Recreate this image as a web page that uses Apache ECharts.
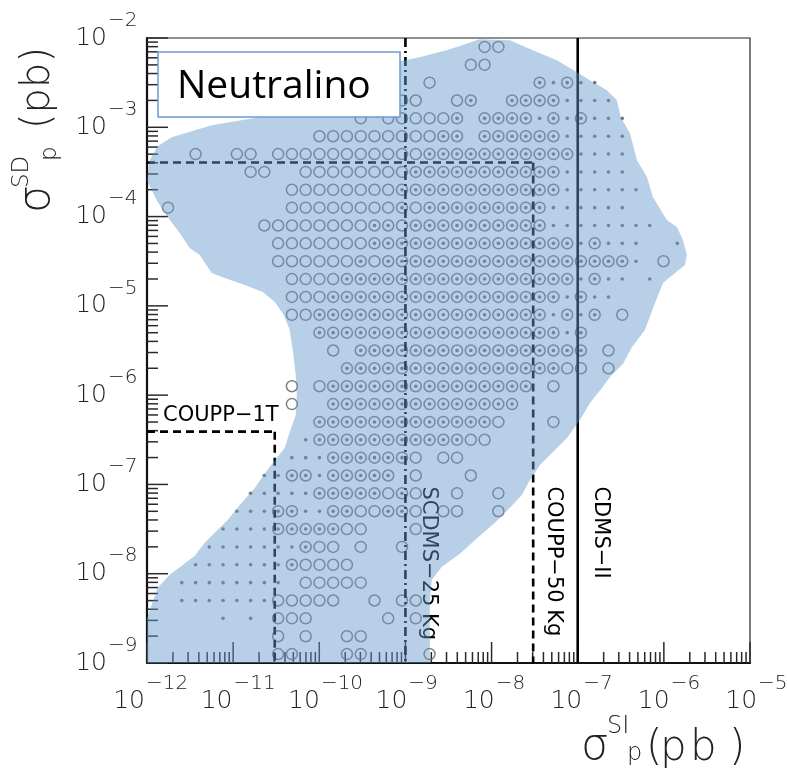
<!DOCTYPE html>
<html><head><meta charset="utf-8">
<script src="https://cdn.jsdelivr.net/npm/echarts@6/dist/echarts.min.js"></script>
<style>html,body{margin:0;padding:0;background:#fff}#c{width:788px;height:773px}</style>
</head><body><div id="c"></div>
<script>
// ---- data (log10 of cross-sections, pb) ----
const colsLog = [-11.756,-11.596,-11.436,-11.277,-11.117,-10.957,-10.797,-10.638,-10.478,-10.318,
  -10.158,-9.998,-9.839,-9.679,-9.519,-9.359,-9.200,-9.040,-8.880,-8.720,
  -8.560,-8.401,-8.241,-8.081,-7.921,-7.762,-7.602,-7.442,-7.282,-7.122,
  -6.963,-6.803,-6.643,-6.483,-6.324,-6.164,-6.004,-5.844];
const rowsLog = [-2.1,-2.3,-2.5,-2.7,-2.9,-3.1,-3.3,-3.5,-3.7,-3.9,-4.1,-4.3,-4.5,-4.7,-4.9,-5.1,-5.3,-5.5,
  -5.7,-5.9,-6.1,-6.3,-6.5,-6.7,-6.9,-7.1,-7.3,-7.5,-7.7,-7.9,-8.1,-8.3,-8.5,-8.7,-8.9];
// o = open circle, @ = circle with central dot, . = dot, - = nothing
const rowPatterns = [
  "---------- ---------- ---oo----- --------",
  "---------- ---------- --oo------ --------",
  "---------- ---------o -------@.@ ..------",
  "---------- -------oo- -o@--@@@@. ...-----",
  "---------- ----o-oooo o@-@@@@.@. @...----",
  "---------- -ooooooooo @@-@@@@@@. ....----",
  "--o--oo-oo ooooooooo@ @@@@@@@@@@ ....----",
  "------oo-- oooooooo@@ @@@@@@@@@. ....----",
  "---------o ooooooo@@@ @@@@@@@@@. .....---",
  "o--------o ooooooo@o@ @@@@@@@@.. ....----",
  "-------ooo ooooo@@o@@ @@@@@@@@.. ......--",
  "--------oo ooooo@@@@@ @@@@@@@@@@ .@...--.",
  "--------oo oooo@o@@@@ @@@@@@@@@@ @@@@.-o-",
  "---------o ooo@@@@@@@ @@@@@@@@@@ .@..-.--",
  "---------o oo@@@@@@@@ @@@@@@@@@. @..-----",
  "---------o o@@@@@@@@@ @@@@@@@@.@ .@-o----",
  "---------- -@@@@@@@@@ @@@@@@@@@. @-------",
  "---------- --o-@@@@@@ @@@@@@@@@@ @-o-----",
  "---------- ---@@@@@@@ @@@@@@@@@o o-o-----",
  "---------o -o@@@@@@@@ @@@@@@@-o- --------",
  "---------o --@@@@@@@@ @@@@@@---- --------",
  "---------- -@@@@@@@@@ @@@@o---o- --------",
  "---------- .@@@@@@@@@ @@oo------ --------",
  "---------. ..@@@@@@o- oo-------- --------",
  "-------..@ @.@@@@@-o- --o------- --------",
  "------.... .@@@@@o@o- -o--o----- --------",
  "-----...@@ ..@@oo@@o- oo--o----- --------",
  "----....@@ @@@oo---o- ---------- --------",
  "---....... @oo-o--o-- ---------- --------",
  "--.......@ oooo------ ---------- --------",
  "-........- ooooo----- ---------- --------",
  "-.......oo ooo--o-oo- ---------- --------",
  "----.-.-oo o-----o-o- ---------- --------",
  "--------o- o--oo----- ---------- --------",
  "--------oo ---oo----o ---------- --------"
];
// allowed region (shaded), log10 coordinates
const regionLogX = [-8.136,-7.787,-7.520,-7.242,-7.009,-6.858,-6.661,-6.545,-6.500,-6.394,-6.312,-6.196,-6.127,-5.964,-5.848,-5.778,-5.732,-5.755,-5.871,-6.010,-6.103,-6.220,-6.370,-6.475,-6.626,-6.719,-6.858,-6.974,-7.125,-7.288,-7.439,-7.555,-7.648,-7.787,-7.962,-8.136,-8.368,-8.577,-8.693,-8.717,-8.717,-12,-12,-11.945,-11.876,-11.736,-11.597,-11.446,-11.330,-11.214,-11.063,-10.923,-10.749,-10.610,-10.494,-10.401,-10.343,-10.273,-10.261,-10.273,-10.308,-10.343,-10.412,-10.517,-10.656,-10.865,-11.098,-11.249,-11.388,-11.504,-11.620,-11.794,-11.887,-12,-11.969,-11.876,-11.713,-11.249,-10.633,-9.878,-9.181,-8.833,-8.484];
const regionLogY = [-2.015,-2.026,-2.138,-2.250,-2.384,-2.473,-2.585,-2.697,-2.887,-3.066,-3.368,-3.559,-3.782,-4.040,-4.118,-4.264,-4.431,-4.543,-4.633,-4.745,-4.969,-5.271,-5.461,-5.651,-5.797,-5.920,-6.087,-6.278,-6.479,-6.636,-6.781,-6.949,-7.117,-7.262,-7.430,-7.576,-7.777,-7.923,-8.068,-8.292,-9,-9,-8.5,-8.348,-8.158,-8.012,-7.911,-7.800,-7.654,-7.542,-7.397,-7.229,-7.039,-6.848,-6.703,-6.591,-6.412,-6.222,-5.998,-5.774,-5.494,-5.271,-5.103,-4.957,-4.845,-4.767,-4.689,-4.633,-4.431,-4.353,-4.185,-3.962,-3.816,-3.592,-3.368,-3.212,-3.111,-2.977,-2.876,-2.585,-2.283,-2.216,-2.126];
// experimental limits
const limitNames = ['SCDMS\u221225 Kg', 'COUPP\u221250 Kg', 'CDMS\u2212II'];
const limitSI = [1.0e-9, 3.04e-8, 1.0e-7];
const limitSD = [null, 4.04e-4, null];
const coupp1TName = 'COUPP\u22121T';
const coupp1TSI = 3.04e-11;
const coupp1TSD = 3.9e-7;
// axis ticks
const xDecades = [-12,-11,-10,-9,-8,-7,-6,-5];
const yDecades = [-9,-8,-7,-6,-5,-4,-3,-2];
const xTickExp = ['\u221212','\u221211','\u221210','\u22129','\u22128','\u22127','\u22126','\u22125'];
const yTickExp = ['\u22129','\u22128','\u22127','\u22126','\u22125','\u22124','\u22123','\u22122'];
const minorMult = [2,3,4,5,6,7,8,9];

// ---- build scatter data ----
const ringPts = [], dotPts = [];
rowPatterns.forEach((p, r) => {
  const s = p.replace(/ /g, '');
  for (let k = 0; k < s.length; k++) {
    const c = s[k];
    const pt = [Math.pow(10, colsLog[k]), Math.pow(10, rowsLog[r])];
    if (c === 'o' || c === '@') ringPts.push(pt);
    if (c === '@' || c === '.') dotPts.push(pt);
  }
});
const XMIN = Math.pow(10, xDecades[0]), XMAX = Math.pow(10, xDecades[xDecades.length-1]);
const YMIN = Math.pow(10, yDecades[0]), YMAX = Math.pow(10, yDecades[yDecades.length-1]);
const FONT = "'DejaVu Sans'";

function txt(text, x, y, size, align, vAlign, extra) {
  return Object.assign({type:'text', style:Object.assign({
    text:text, x:x, y:y, fontSize:size, fontFamily:FONT, fill:'#111',
    align:align, textAlign:align, verticalAlign:vAlign, textVerticalAlign:vAlign
  }, extra || {})});
}

function renderTicks(params, api) {
  const ch = [];
  const st = {stroke:'#2a2a2a', lineWidth:1.5};
  xDecades.forEach((d, i) => {
    const v = Math.pow(10, d);
    const p = api.coord([v, YMIN]);
    ch.push({type:'line', shape:{x1:p[0], y1:p[1], x2:p[0], y2:p[1]-21}, style:st});
    if (i < xDecades.length - 1) minorMult.forEach(m => {
      const q = api.coord([m*v, YMIN]);
      ch.push({type:'line', shape:{x1:q[0], y1:q[1], x2:q[0], y2:q[1]-11}, style:st});
    });
  });
  yDecades.forEach((d, i) => {
    const v = Math.pow(10, d);
    const p = api.coord([XMIN, v]);
    ch.push({type:'line', shape:{x1:p[0], y1:p[1], x2:p[0]+21, y2:p[1]}, style:st});
    if (i < yDecades.length - 1) minorMult.forEach(m => {
      const q = api.coord([XMIN, m*v]);
      ch.push({type:'line', shape:{x1:q[0], y1:q[1], x2:q[0]+11, y2:q[1]}, style:st});
    });
  });
  return {type:'group', children:ch};
}

function renderTickLabels(params, api) {
  const ch = [];
  const light = {fontWeight:200, fill:'#222'};
  xDecades.forEach((d, i) => {
    const p = api.coord([Math.pow(10, d), YMIN]);
    const xr = p[0] - 2 + 1.3*i;
    ch.push(txt('10', xr, p[1]+38, 25, 'right', 'middle', light));
    ch.push(txt(xTickExp[i], xr+1, p[1]+21, 20, 'left', 'middle', light));
  });
  yDecades.forEach((d, i) => {
    const p = api.coord([XMIN, Math.pow(10, d)]);
    ch.push(txt('10', 107, p[1], 25, 'right', 'middle', light));
    ch.push(txt(yTickExp[i], 108, p[1]-17.5, 20, 'left', 'middle', light));
  });
  return {type:'group', children:ch};
}

function renderLimits(params, api) {
  const ch = [];
  const lw = 2.6;
  const yTop = api.coord([XMIN, YMAX])[1];
  const yBot = api.coord([XMIN, YMIN])[1];
  const xLeft = api.coord([XMIN, YMIN])[0];
  const dashes = [[9,4,2,4], [8,5], null];
  const dx = [23, 20, 22.5];
  limitSI.forEach((xv, i) => {
    const x = api.coord([xv, YMIN])[0];
    let y1 = yTop;
    const style = {stroke:'#000', lineWidth:lw, fill:null};
    if (dashes[i]) style.lineDash = dashes[i];
    if (limitSD[i] !== null) {
      y1 = api.coord([xv, limitSD[i]])[1];
      ch.push({type:'line', shape:{x1:xLeft, y1:y1, x2:x, y2:y1}, style:Object.assign({}, style)});
    }
    ch.push({type:'line', shape:{x1:x, y1:y1, x2:x, y2:yBot}, style:style});
    const ty = api.coord([xv, 1e-7])[1] + 2;
    ch.push({type:'text', x:x+dx[i], y:ty, rotation:-Math.PI/2,
      style:{text:limitNames[i], x:0, y:0, fontSize:21, fontFamily:FONT, fill:'#000',
        align:'left', textAlign:'left', verticalAlign:'middle', textVerticalAlign:'middle'}});
  });
  // COUPP-1T
  const c = api.coord([coupp1TSI, coupp1TSD]);
  const st = {stroke:'#000', lineWidth:lw, lineDash:[8,5], fill:null};
  ch.push({type:'line', shape:{x1:xLeft, y1:c[1], x2:c[0], y2:c[1]}, style:Object.assign({}, st)});
  ch.push({type:'line', shape:{x1:c[0], y1:c[1], x2:c[0], y2:yBot}, style:st});
  ch.push(txt(coupp1TName, xLeft+16, c[1]-16, 21, 'left', 'middle', {fill:'#000'}));
  return {type:'group', children:ch};
}

function renderRegion(params, api) {
  const pts = regionLogX.map((lx, i) => api.coord([Math.pow(10, lx), Math.pow(10, regionLogY[i])]));
  return {type:'polygon', shape:{points:pts}, style:{fill:'rgba(98,150,203,0.46)', stroke:null}};
}

const dummy = [[1e-10, 1e-5]];
const chart = echarts.init(document.getElementById('c'));
chart.setOption({
  animation:false,
  backgroundColor:'#fff',
  grid:{left:147, top:38, width:603, height:625, show:true, borderColor:'#222', borderWidth:1.2, backgroundColor:'transparent'},
  xAxis:{type:'log', logBase:10, min:XMIN, max:XMAX,
    axisLine:{show:true, lineStyle:{color:'#111', width:2.2}},
    axisTick:{show:false}, axisLabel:{show:false}, splitLine:{show:false}},
  yAxis:{type:'log', logBase:10, min:YMIN, max:YMAX,
    axisLine:{show:true, lineStyle:{color:'#111', width:2.2}},
    axisTick:{show:false}, axisLabel:{show:false}, splitLine:{show:false}},
  series:[
    {type:'custom', z:1, silent:true, renderItem:renderTicks, data:dummy},
    {type:'scatter', z:2, silent:true, symbol:'circle', symbolSize:11, data:ringPts,
      itemStyle:{color:'rgba(0,0,0,0)', borderColor:'#626262', borderWidth:1.5}},
    {type:'scatter', z:2, silent:true, symbol:'circle', symbolSize:3.6, data:dotPts,
      itemStyle:{color:'#555'}},
    {type:'custom', z:3, silent:true, renderItem:renderLimits, data:dummy},
    {type:'custom', z:5, silent:true, renderItem:renderRegion, data:dummy},
    {type:'custom', z:6, silent:true, renderItem:renderTickLabels, data:dummy}
  ],
  graphic:[
    {type:'rect', z:100, shape:{x:158, y:52, width:242, height:65},
      style:{fill:'#fff', stroke:'#6b9bd2', lineWidth:1.5}},
    {type:'text', z:101, style:{text:'Neutralino', x:177, y:87, fontSize:39, fontFamily:"'Open Sans'",
      fill:'#000', align:'left', textAlign:'left', verticalAlign:'middle', textVerticalAlign:'middle'}},
    // y-axis title
    {type:'group', x:53, y:213, rotation:Math.PI/2, z:100, children:[
      {type:'text', style:{text:'\u03c3', x:0, y:-15, fontSize:44, fontFamily:FONT, fontWeight:200, fill:'#222', align:'left', verticalAlign:'middle'}},
      {type:'text', style:{text:'SD', x:25, y:-31, fontSize:23, fontFamily:FONT, fontWeight:200, fill:'#222', align:'left', verticalAlign:'middle'}},
      {type:'text', style:{text:'p', x:52, y:-3, fontSize:23, fontFamily:FONT, fontWeight:200, fill:'#222', align:'left', verticalAlign:'middle'}},
      {type:'text', style:{text:'(pb)', x:84, y:-14, fontSize:40, fontFamily:FONT, fontWeight:200, fill:'#222', align:'left', verticalAlign:'middle'}}
    ]},
    // x-axis title
    {type:'group', x:0, y:0, z:100, children:[
      {type:'text', style:{text:'\u03c3', x:581, y:748, fontSize:44, fontFamily:FONT, fontWeight:200, fill:'#222', align:'left', verticalAlign:'middle'}},
      {type:'text', style:{text:'SI', x:607, y:727, fontSize:24, fontFamily:FONT, fontWeight:200, fill:'#222', align:'left', verticalAlign:'middle'}},
      {type:'text', style:{text:'p', x:627, y:754, fontSize:24, fontFamily:FONT, fontWeight:200, fill:'#222', align:'left', verticalAlign:'middle'}},
      {type:'text', style:{text:'(', x:646, y:749, fontSize:42, fontFamily:FONT, fontWeight:200, fill:'#222', align:'left', verticalAlign:'middle'}},
      {type:'text', style:{text:'p', x:660, y:749, fontSize:42, fontFamily:FONT, fontWeight:200, fill:'#222', align:'left', verticalAlign:'middle'}},
      {type:'text', style:{text:'b', x:690, y:749, fontSize:42, fontFamily:FONT, fontWeight:200, fill:'#222', align:'left', verticalAlign:'middle'}},
      {type:'text', style:{text:')', x:729, y:749, fontSize:42, fontFamily:FONT, fontWeight:200, fill:'#222', align:'left', verticalAlign:'middle'}}
    ]}
  ]
});
</script></body></html>
